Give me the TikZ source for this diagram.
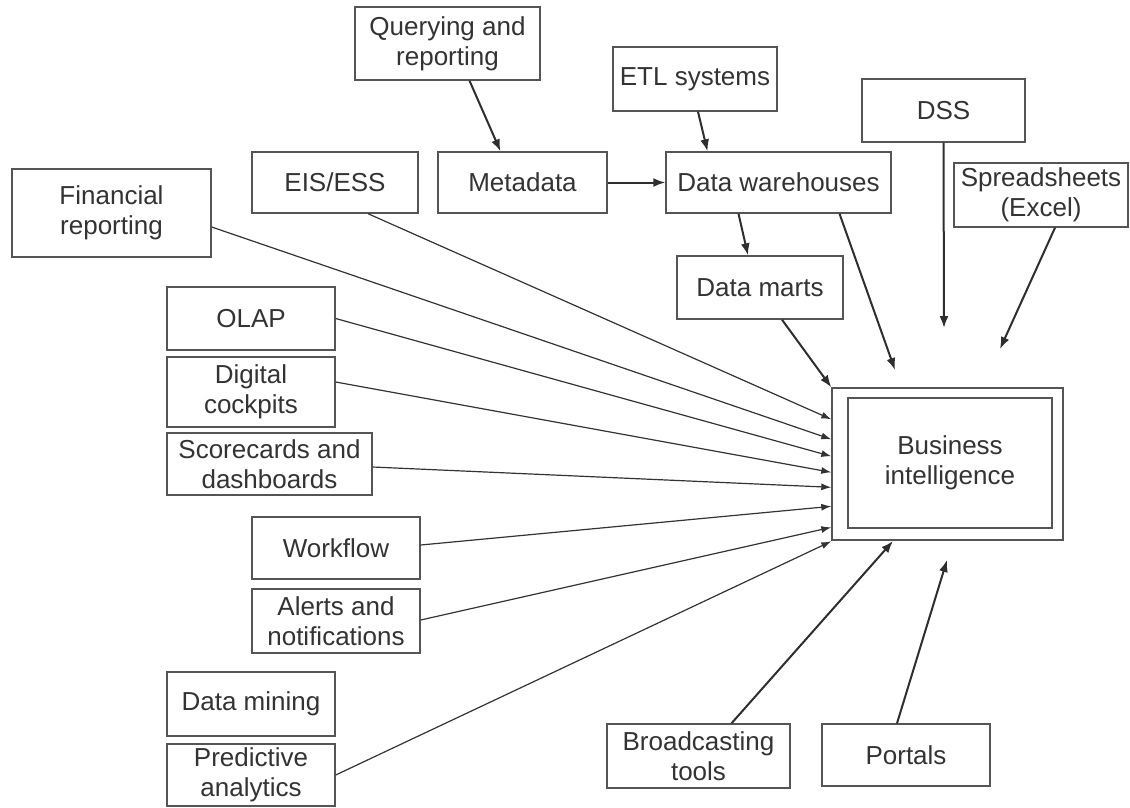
\documentclass[tikz,border=0pt]{standalone}
\usepackage{fontspec}
\setmainfont{Liberation Sans}
\usetikzlibrary{arrows.meta}
\definecolor{ink}{HTML}{333333}
\definecolor{edge}{HTML}{555555}
\begin{document}
\begin{tikzpicture}[x=1pt,y=-1pt,
  box/.style={draw=edge,line width=1.4pt,fill=white,align=center,inner sep=2pt,
    font=\fontsize{26}{30}\selectfont,text=ink},
  fan/.style={draw=ink,line width=1.2pt,-{Latex[length=10pt,width=7pt]}},
  bold/.style={draw=ink!90!black,line width=2pt,-{Latex[length=12pt,width=9pt]}}]
\useasboundingbox (0,0) rectangle (1130,807);
% boxes
\node[box,minimum width=185,minimum height=73] (qr) at (447.5,43.5) {Querying and\\reporting};
\node[box,minimum width=164,minimum height=64] (etl) at (695,79) {ETL systems};
\node[box,minimum width=163,minimum height=63] (dss) at (943.5,110.5) {DSS};
\node[box,minimum width=174,minimum height=64] (ss) at (1041,195) {Spreadsheets\\(Excel)};
\node[box,minimum width=166,minimum height=61] (eis) at (335,182.5) {EIS/ESS};
\node[box,minimum width=169,minimum height=61] (meta) at (522.5,182.5) {Metadata};
\node[box,minimum width=225,minimum height=61] (dw) at (778.5,182.5) {Data warehouses};
\node[box,minimum width=199,minimum height=88] (fin) at (111.5,213) {Financial\\reporting};
\node[box,minimum width=166,minimum height=63] (dm) at (760,287.5) {Data marts};
\node[box,minimum width=168,minimum height=63] (olap) at (251,318.5) {OLAP};
\node[box,minimum width=168,minimum height=70] (dc) at (251,392) {Digital\\cockpits};
\node[box,minimum width=205,minimum height=62] (sc) at (269.5,464) {Scorecards and\\dashboards};
\node[box,minimum width=168,minimum height=62] (wf) at (336,548) {Workflow};
\node[box,minimum width=168,minimum height=64] (al) at (336,621) {Alerts and\\notifications};
\node[box,minimum width=168,minimum height=64] (dmin) at (251,704) {Data mining};
\node[box,minimum width=168,minimum height=62] (pa) at (251,775) {Predictive\\analytics};
\node[box,minimum width=183,minimum height=64] (bt) at (698.5,756) {Broadcasting\\tools};
\node[box,minimum width=168,minimum height=62] (po) at (906,755) {Portals};
% business intelligence
\node[draw=edge,line width=1.4pt,minimum width=231,minimum height=152] (bio) at (947.5,464) {};
\node[box,minimum width=204,minimum height=130] (bi) at (950,463) {Business\\intelligence};
% free ends
\coordinate (dwtip) at (895,370);
\coordinate (dsstip) at (944,328);
\coordinate (sstip) at (1000,349);
\coordinate (bttip) at (893,541);
\coordinate (potip) at (947,560);
% top arrows
\draw[bold] ([xshift=22]qr.south) -- ([xshift=-22]meta.north);
\draw[bold] ([xshift=3]etl.south) -- ([xshift=-71]dw.north);
\draw[bold] (meta.east) -- (dw.west);
\draw[bold] ([xshift=-40]dw.south) -- ([xshift=-12]dm.north);
\draw[bold] ([xshift=22]dm.south) -- (bio.north west);
\draw[bold] ([xshift=61]dw.south) -- (dwtip);
\draw[bold] (dss.south) -- (dsstip);
\draw[bold] ([xshift=14]ss.south) -- (sstip);
\draw[bold] ([xshift=33]bt.north) -- (bttip);
\draw[bold] ([xshift=-9]po.north) -- (potip);
% fan
\draw[fan] ([xshift=33]eis.south) -- ([yshift=-32]bio.north west);
\draw[fan] ([yshift=-14]fin.east) -- ([yshift=-52]bio.north west);
\draw[fan] (olap.east) -- ([yshift=-69]bio.north west);
\draw[fan] ([yshift=10]dc.east) -- ([yshift=-85]bio.north west);
\draw[fan] ([yshift=-3]sc.east) -- ([yshift=-100]bio.north west);
\draw[fan] ([yshift=3]wf.east) -- ([yshift=-119]bio.north west);
\draw[fan] ([yshift=1]al.east) -- ([yshift=-140]bio.north west);
\draw[fan] (pa.east) -- ([yshift=-154]bio.north west);
\end{tikzpicture}
\end{document}
